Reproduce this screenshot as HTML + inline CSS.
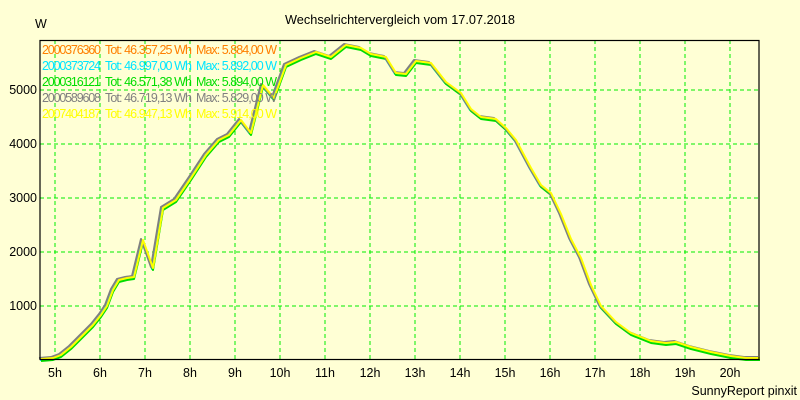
<!DOCTYPE html>
<html><head><meta charset="utf-8"><style>
body{margin:0;background:#FFFFD5;}
svg{display:block;font-family:"Liberation Sans",sans-serif;font-size:12.5px;}
</style></head><body>
<svg width="800" height="400" viewBox="0 0 800 400">
<rect width="800" height="400" fill="#FFFFD5"/>
<text x="285" y="24" textLength="230" lengthAdjust="spacingAndGlyphs">Wechselrichtervergleich vom 17.07.2018</text>
<text x="35" y="28">W</text>
<g stroke="#00ee00" stroke-dasharray="4,3" stroke-width="1">
<line x1="55" y1="40" x2="55" y2="359"/><line x1="100" y1="40" x2="100" y2="359"/><line x1="145" y1="40" x2="145" y2="359"/><line x1="190" y1="40" x2="190" y2="359"/><line x1="235" y1="40" x2="235" y2="359"/><line x1="280" y1="40" x2="280" y2="359"/><line x1="325" y1="40" x2="325" y2="359"/><line x1="370" y1="40" x2="370" y2="359"/><line x1="415" y1="40" x2="415" y2="359"/><line x1="460" y1="40" x2="460" y2="359"/><line x1="505" y1="40" x2="505" y2="359"/><line x1="550" y1="40" x2="550" y2="359"/><line x1="595" y1="40" x2="595" y2="359"/><line x1="640" y1="40" x2="640" y2="359"/><line x1="685" y1="40" x2="685" y2="359"/><line x1="730" y1="40" x2="730" y2="359"/>
<line x1="40" y1="90" x2="759" y2="90"/><line x1="40" y1="144" x2="759" y2="144"/><line x1="40" y1="198" x2="759" y2="198"/><line x1="40" y1="252" x2="759" y2="252"/><line x1="40" y1="306" x2="759" y2="306"/>
</g>
<g text-anchor="end">
<text x="37" y="94">5000</text><text x="37" y="148">4000</text><text x="37" y="202">3000</text><text x="37" y="256">2000</text><text x="37" y="310">1000</text>
</g>
<g text-anchor="middle">
<text x="55" y="377">5h</text><text x="100" y="377">6h</text><text x="145" y="377">7h</text><text x="190" y="377">8h</text><text x="235" y="377">9h</text><text x="280" y="377">10h</text><text x="325" y="377">11h</text><text x="370" y="377">12h</text><text x="415" y="377">13h</text><text x="460" y="377">14h</text><text x="505" y="377">15h</text><text x="550" y="377">16h</text><text x="595" y="377">17h</text><text x="640" y="377">18h</text><text x="685" y="377">19h</text><text x="730" y="377">20h</text>
</g>
<text x="797" y="395" text-anchor="end">SunnyReport pinxit</text>
<defs><polyline id="c" fill="none" stroke-width="2" stroke-linejoin="round" points="40,359 52,358 60,355 70,347 80,337 92,325 100,315 106,306 112,290 118,280 126,278 133,277 142,240 152,268 162,208 175,200 190,178 205,155 218,140 228,135 240,120 250,133 262,85 273,98 285,65 300,58 315,52 330,57 345,45 360,48 370,54 385,57 395,73 405,74 415,61 430,63 445,82 460,93 470,109 480,117 495,119 505,128 515,140 530,168 540,185 550,193 560,214 570,239 580,258 590,285 600,306 615,322 630,333 640,337 650,341 665,343 675,342 690,347 710,352 730,356 745,358 759,358"/></defs>
<use href="#c" stroke="#ff7f00" transform="translate(1,1)"/>
<use href="#c" stroke="#00e5ff" transform="translate(0,1)"/>
<use href="#c" stroke="#00dd00" transform="translate(1,2)"/>
<use href="#c" stroke="#808080" transform="translate(-1,-1)"/>
<use href="#c" stroke="#ffff00" transform="translate(1,0)"/>
<rect x="40" y="40.5" width="719" height="319" fill="none" stroke="#000" stroke-width="1.2"/>
<g lengthAdjust="spacingAndGlyphs">
<text x="42" y="54" fill="#ff7f00" textLength="59">2000376360</text><text x="105" y="54" fill="#ff7f00" textLength="87">Tot: 46.357,25 Wh</text><text x="196" y="54" fill="#ff7f00" textLength="81">Max: 5.884,00 W</text>
<text x="42" y="70" fill="#00e5ff" textLength="59">2000373724</text><text x="105" y="70" fill="#00e5ff" textLength="87">Tot: 46.997,00 Wh</text><text x="196" y="70" fill="#00e5ff" textLength="81">Max: 5.892,00 W</text>
<text x="42" y="86" fill="#00dd00" textLength="59">2000316121</text><text x="105" y="86" fill="#00dd00" textLength="87">Tot: 46.571,38 Wh</text><text x="196" y="86" fill="#00dd00" textLength="81">Max: 5.894,00 W</text>
<text x="42" y="102" fill="#808080" textLength="59">2000589608</text><text x="105" y="102" fill="#808080" textLength="87">Tot: 46.719,13 Wh</text><text x="196" y="102" fill="#808080" textLength="81">Max: 5.829,00 W</text>
<text x="42" y="118" fill="#ffff00" textLength="59">2007404187</text><text x="105" y="118" fill="#ffff00" textLength="87">Tot: 46.947,13 Wh</text><text x="196" y="118" fill="#ffff00" textLength="81">Max: 5.914,00 W</text>
</g>
</svg>
</body></html>
